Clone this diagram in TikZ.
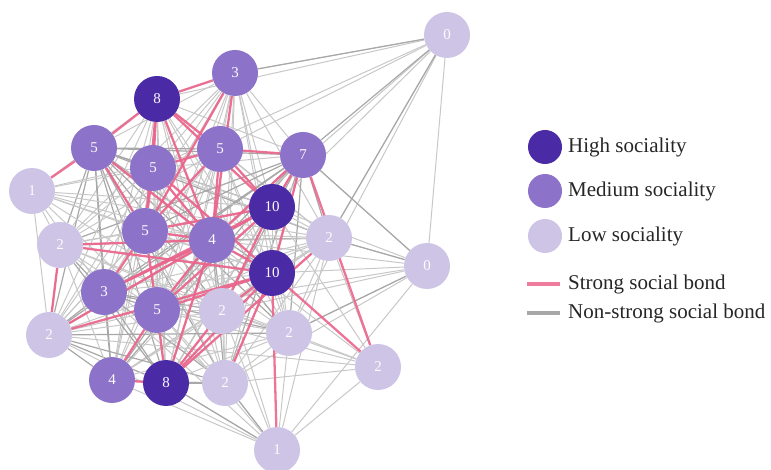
\documentclass[tikz,border=0pt]{standalone}
\usepackage{fontspec}
\setmainfont{Liberation Serif}
\usetikzlibrary{backgrounds}
\definecolor{hi}{RGB}{75,42,165}
\definecolor{med}{RGB}{140,114,200}
\definecolor{lo}{RGB}{206,196,230}
\definecolor{pinkb}{RGB}{236,100,140}
\definecolor{grayb}{RGB}{168,168,168}
\definecolor{grayl}{RGB}{200,200,200}
\begin{document}
\begin{tikzpicture}[x=1pt,y=-1pt,
  nd/.style={circle,minimum size=46pt,inner sep=0pt,text=white!95!lo,font=\fontsize{15}{15}\selectfont},
  high/.style={nd,fill=hi}, medium/.style={nd,fill=med}, low/.style={nd,fill=lo},
  weak/.style={draw=grayl,line width=1pt},
  mid/.style={draw=grayb,line width=1.2pt},
  strong/.style={draw=pinkb,line width=2.3pt,opacity=0.9},
  lgdot/.style={circle,minimum size=34pt,inner sep=0pt},
  lg/.style={anchor=west,font=\fontsize{21}{21}\selectfont,text=black!85,inner sep=0pt}]
\useasboundingbox (0,0) rectangle (771,470);
% nodes
\node[low]    (A) at (447,35)  {0};
\node[medium] (B) at (235,73)  {3};
\node[high]   (C) at (157,99)  {8};
\node[medium] (D) at (94,148)  {5};
\node[medium] (E) at (153,168) {5};
\node[medium] (F) at (220,149) {5};
\node[medium] (G) at (303,155) {7};
\node[low]    (H) at (32,191)  {1};
\node[high]   (I) at (272,207) {10};
\node[low]    (J) at (60,245)  {2};
\node[medium] (K) at (145,231) {5};
\node[medium] (L) at (212,240) {4};
\node[low]    (M) at (329,238) {2};
\node[low]    (N) at (427,266) {0};
\node[high]   (O) at (272,273) {10};
\node[medium] (P) at (104,292) {3};
\node[medium] (Q) at (157,310) {5};
\node[low]    (R) at (222,311) {2};
\node[low]    (S) at (49,335)  {2};
\node[low]    (T) at (289,333) {2};
\node[low]    (U) at (378,367) {2};
\node[medium] (V) at (112,380) {4};
\node[high]   (W) at (166,383) {8};
\node[low]    (X) at (225,383) {2};
\node[low]    (Y) at (277,450) {1};
% edges
\begin{scope}[on background layer]
\foreach \a [count=\i] in {C,B,D,E,F,G,I,K,L,M,O,P,Q,R,S,T,V,W,X,J}{
  \foreach \b [count=\j] in {C,B,D,E,F,G,I,K,L,M,O,P,Q,R,S,T,V,W,X,J}{
    \ifnum\j>\i
      \pgfmathtruncatemacro\r{mod(\i*7+\j*3,3)}
      \ifnum\r=0 \draw[mid] (\a)--(\b); \else \draw[weak] (\a)--(\b); \fi
    \fi
  }
}
\foreach \b in {B,F,I,M,N,E,L,T,C}{\draw[weak] (A)--(\b);}
\foreach \b in {B,G,M}{\draw[mid] (A)--(\b);}
\foreach \b in {C,E,K,J,L,I,P,S,Q,R,M,O,F}{\draw[weak] (H)--(\b);}
\foreach \b in {G,M,I,O,T,R,X,L,Q,Y}{\draw[weak] (N)--(\b);}
\foreach \b in {M,G,T}{\draw[mid] (N)--(\b);}
\foreach \b in {T,X,W,R,Q,V,U,S,L,M,P}{\draw[weak] (Y)--(\b);}
\foreach \b in {X,W}{\draw[mid] (Y)--(\b);}
\foreach \b in {M,T,R,X,I,L,Q,S}{\draw[weak] (U)--(\b);}
\foreach \a/\b in {C/B,C/D,C/E,C/F,C/L,C/K,C/I,D/K,D/L,E/K,E/L,E/O,F/G,F/E,F/I,F/K,F/L,
  G/I,G/O,G/L,I/K,I/L,I/P,I/Q,I/R,K/L,K/Q,K/P,L/O,L/Q,L/W,L/S,O/Q,O/W,O/R,Q/W,Q/V,
  V/W,W/R,J/L,J/O,S/O,P/L,B/K,B/L,D/H,G/U,O/U,O/Y,S/J,X/O,M/W}{
  \draw[strong] (\a)--(\b);
}
\end{scope}
% legend
\node[lgdot,fill=hi]  (lh) at (545,147) {};
\node[lgdot,fill=med] (lm) at (545,191) {};
\node[lgdot,fill=lo]  (ll) at (545,236) {};
\node[lg] (th) at (568,147) {High sociality};
\node[lg] (tm) at (568,191) {Medium sociality};
\node[lg] (tl) at (568,236) {Low sociality};
\coordinate (s1) at (527,284); \coordinate (s2) at (560,284);
\coordinate (g1) at (527,313); \coordinate (g2) at (560,313);
\draw[draw=pinkb!85!white,line width=4pt] (s1)--(s2);
\draw[draw=grayb,line width=4pt] (g1)--(g2);
\node[lg] (ts) at (568,284) {Strong social bond};
\node[lg] (tg) at (568,313) {Non-strong social bond};
\end{tikzpicture}
\end{document}
